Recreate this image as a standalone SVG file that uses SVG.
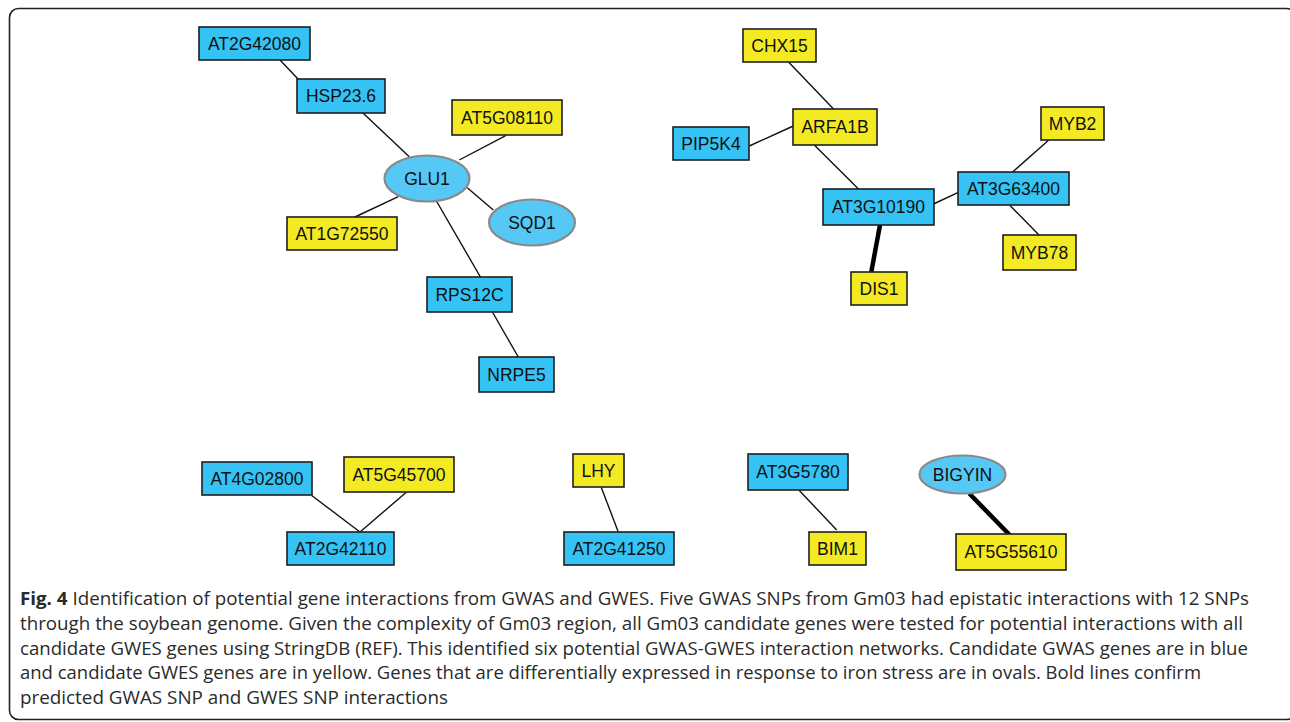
<svg xmlns="http://www.w3.org/2000/svg" width="1290" height="722" viewBox="0 0 1290 722">
<style>
.bg{fill:#ffffff}
.frame{fill:none;stroke:#222;stroke-width:1.6}
.gwas{fill:#35c3f5;stroke:#1e1e1e;stroke-width:1.6}
.gwes{fill:#f4ea24;stroke:#1e1e1e;stroke-width:1.6}
.oval{fill:#55c8f5;stroke:#8a8a8a;stroke-width:2.2}
.lbl{font-family:"Liberation Sans",Arial,sans-serif;font-size:17.5px;fill:#111;text-anchor:middle}
.e{stroke:#111;stroke-width:1.4;fill:none}
.b{stroke:#000;stroke-width:4.5;fill:none}
.cap{font-family:"Open Sans","Noto Sans",sans-serif;font-size:17.3px;fill:#2a2a2a}
.capb{font-weight:bold}
</style>
<rect class="bg" x="0" y="0" width="1290" height="722"/>
<rect class="frame" x="9.5" y="8.5" width="1286" height="711" rx="9"/>
<g id="connectors">
<line class="e" x1="280" y1="60" x2="298.5" y2="79.5"/>
<line class="e" x1="362.7" y1="112.7" x2="409.3" y2="156.7"/>
<line class="e" x1="505.7" y1="135.7" x2="459.3" y2="160"/>
<line class="e" x1="467.3" y1="187.7" x2="493.3" y2="210"/>
<line class="e" x1="398.3" y1="196.7" x2="355" y2="217"/>
<line class="e" x1="436.7" y1="201.5" x2="480.7" y2="277.5"/>
<line class="e" x1="492.7" y1="312.5" x2="518.3" y2="357"/>
<line class="e" x1="789" y1="62.5" x2="834" y2="109.5"/>
<line class="e" x1="749.3" y1="146" x2="793.3" y2="126"/>
<line class="e" x1="814.3" y1="145" x2="859" y2="189.5"/>
<line class="e" x1="933.5" y1="204" x2="958.3" y2="192.3"/>
<line class="e" x1="1012.3" y1="172.3" x2="1048.3" y2="140.5"/>
<line class="e" x1="1010" y1="205.5" x2="1039" y2="235"/>
<line class="b" x1="880" y1="225" x2="871.3" y2="272"/>
<line class="e" x1="311.7" y1="495.5" x2="360" y2="532"/>
<line class="e" x1="406" y1="492.5" x2="360" y2="532"/>
<line class="e" x1="601.3" y1="487.5" x2="618.3" y2="532"/>
<line class="e" x1="799.3" y1="490.5" x2="836.7" y2="530"/>
<line class="b" x1="969.3" y1="493.5" x2="1010.7" y2="536"/>
</g>
<g id="AT2G42080"><rect class="gwas" x="199" y="27" width="111" height="33"/><text class="lbl" x="254.5" y="49.5">AT2G42080</text></g>
<g id="HSP23.6"><rect class="gwas" x="297" y="79" width="88" height="34"/><text class="lbl" x="341" y="102">HSP23.6</text></g>
<g id="AT5G08110"><rect class="gwes" x="452" y="100" width="110" height="35"/><text class="lbl" x="507" y="123.5">AT5G08110</text></g>
<g id="GLU1"><ellipse class="oval" cx="427" cy="178.5" rx="42.5" ry="23"/><text class="lbl" x="427" y="184.5">GLU1</text></g>
<g id="SQD1"><ellipse class="oval" cx="532" cy="222.5" rx="43" ry="23"/><text class="lbl" x="532" y="228.5">SQD1</text></g>
<g id="AT1G72550"><rect class="gwes" x="287" y="217" width="110" height="33"/><text class="lbl" x="342" y="239.5">AT1G72550</text></g>
<g id="RPS12C"><rect class="gwas" x="427" y="277" width="85" height="35"/><text class="lbl" x="469.5" y="300.5">RPS12C</text></g>
<g id="NRPE5"><rect class="gwas" x="479" y="357" width="75" height="35"/><text class="lbl" x="516.5" y="380.5">NRPE5</text></g>
<g id="CHX15"><rect class="gwes" x="743" y="29" width="73" height="33"/><text class="lbl" x="779.5" y="51.5">CHX15</text></g>
<g id="ARFA1B"><rect class="gwes" x="793" y="109" width="84" height="36"/><text class="lbl" x="835" y="133">ARFA1B</text></g>
<g id="PIP5K4"><rect class="gwas" x="673" y="127" width="76" height="33"/><text class="lbl" x="711" y="149.5">PIP5K4</text></g>
<g id="AT3G10190"><rect class="gwas" x="823" y="189" width="111" height="36"/><text class="lbl" x="878.5" y="213">AT3G10190</text></g>
<g id="AT3G63400"><rect class="gwas" x="958" y="172" width="111" height="33"/><text class="lbl" x="1013.5" y="194.5">AT3G63400</text></g>
<g id="MYB2"><rect class="gwes" x="1041" y="107" width="63" height="33"/><text class="lbl" x="1072.5" y="129.5">MYB2</text></g>
<g id="MYB78"><rect class="gwes" x="1003" y="235" width="73" height="35"/><text class="lbl" x="1039.5" y="258.5">MYB78</text></g>
<g id="DIS1"><rect class="gwes" x="851" y="272" width="56" height="33"/><text class="lbl" x="879" y="294.5">DIS1</text></g>
<g id="AT4G02800"><rect class="gwas" x="202" y="462" width="110" height="33"/><text class="lbl" x="257" y="484.5">AT4G02800</text></g>
<g id="AT5G45700"><rect class="gwes" x="344" y="457" width="110" height="35"/><text class="lbl" x="399" y="480.5">AT5G45700</text></g>
<g id="AT2G42110"><rect class="gwas" x="287" y="532" width="107" height="33"/><text class="lbl" x="340.5" y="554.5">AT2G42110</text></g>
<g id="LHY"><rect class="gwes" x="573" y="454" width="51" height="33"/><text class="lbl" x="598.5" y="476.5">LHY</text></g>
<g id="AT2G41250"><rect class="gwas" x="564" y="532" width="110" height="33"/><text class="lbl" x="619" y="554.5">AT2G41250</text></g>
<g id="AT3G5780"><rect class="gwas" x="748" y="454" width="100" height="36"/><text class="lbl" x="798" y="478">AT3G5780</text></g>
<g id="BIM1"><rect class="gwes" x="809" y="532" width="57" height="33"/><text class="lbl" x="837.5" y="554.5">BIM1</text></g>
<g id="BIGYIN"><ellipse class="oval" cx="962.5" cy="474.5" rx="43" ry="19"/><text class="lbl" x="962.5" y="480.5">BIGYIN</text></g>
<g id="AT5G55610"><rect class="gwes" x="956" y="534" width="110" height="36"/><text class="lbl" x="1011" y="558">AT5G55610</text></g>
<g id="caption">
<text class="cap" x="20" y="605" textLength="1229" lengthAdjust="spacingAndGlyphs"><tspan class="capb">Fig. 4</tspan> Identification of potential gene interactions from GWAS and GWES. Five GWAS SNPs from Gm03 had epistatic interactions with 12 SNPs</text>
<text class="cap" x="20" y="629.8" textLength="1223" lengthAdjust="spacingAndGlyphs">through the soybean genome. Given the complexity of Gm03 region, all Gm03 candidate genes were tested for potential interactions with all</text>
<text class="cap" x="20" y="654.6" textLength="1228" lengthAdjust="spacingAndGlyphs">candidate GWES genes using StringDB (REF). This identified six potential GWAS-GWES interaction networks. Candidate GWAS genes are in blue</text>
<text class="cap" x="20" y="679.4" textLength="1181" lengthAdjust="spacingAndGlyphs">and candidate GWES genes are in yellow. Genes that are differentially expressed in response to iron stress are in ovals. Bold lines confirm</text>
<text class="cap" x="20" y="704.2" textLength="428" lengthAdjust="spacingAndGlyphs">predicted GWAS SNP and GWES SNP interactions</text>
</g>
</svg>
